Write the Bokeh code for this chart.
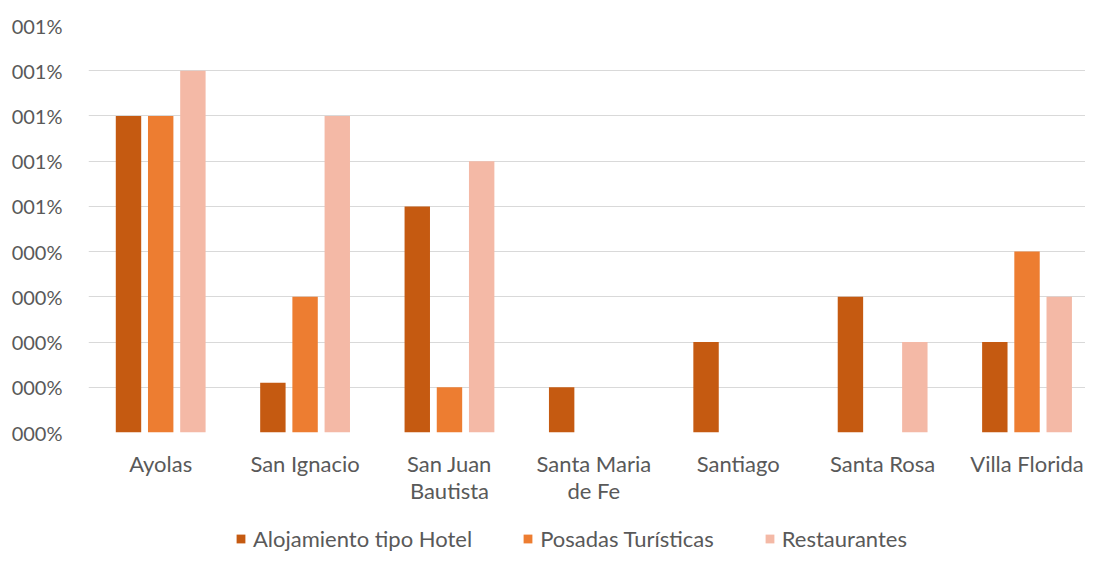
from bokeh.plotting import figure
from bokeh.models import Range1d, Legend, LegendItem, FixedTicker, ColumnDataSource
from bokeh.layouts import column
from bokeh.transform import dodge
from bokeh.embed import file_html
from bokeh.resources import INLINE

categories = ["Ayolas", "San Ignacio", "San Juan\nBautista", "Santa Maria\nde Fe", "Santiago", "Santa Rosa", "Villa Florida"]
hotel = [7, 1.1, 5, 1, 2, 3, 2]
posadas = [7, 3, 1, 0, 0, 0, 4]
restaurantes = [8, 7, 6, 0, 0, 2, 3]
series_names = ["Alojamiento tipo Hotel", "Posadas Turísticas", "Restaurantes"]
y_ticks = [0, 1, 2, 3, 4, 5, 6, 7, 8, 9]
y_tick_labels = ["000%", "000%", "000%", "000%", "000%", "001%", "001%", "001%", "001%", "001%"]

colors = ["#C55A11", "#ED7D31", "#F4B9A6"]
FONT = "Lato"
TXT = "#595959"

idx = list(range(len(categories)))
src = ColumnDataSource(dict(i=idx, hotel=hotel, posadas=posadas, rest=restaurantes))

W = 1085
H1 = 518
H2 = 34

p = figure(width=W, height=H1, x_range=Range1d(-0.5, 6.405),
           y_range=(0, 9), output_backend="svg", toolbar_location=None,
           min_border_left=88, min_border_right=0, min_border_top=25, min_border_bottom=H1 - 432)
p.outline_line_color = None

for col, off, c in zip(["hotel", "posadas", "rest"], [-0.223, 0, 0.223], colors):
    p.vbar(x=dodge("i", off), top=col, width=0.176, source=src,
           fill_color=c, line_color=None)

p.xgrid.grid_line_color = None
p.ygrid.grid_line_color = "#D9D9D9"
p.ygrid.grid_line_width = 1
p.ygrid.ticker = FixedTicker(ticks=y_ticks)

p.yaxis.ticker = FixedTicker(ticks=y_ticks)
p.yaxis.major_label_overrides = {t: l for t, l in zip(y_ticks, y_tick_labels)}
p.xaxis.ticker = FixedTicker(ticks=idx)
p.xaxis.major_label_overrides = {i: c for i, c in zip(idx, categories)}
for ax in (p.xaxis, p.yaxis):
    ax.axis_line_color = None
    ax.major_tick_line_color = None
    ax.minor_tick_line_color = None
    ax.major_label_text_font = FONT
    ax.major_label_text_color = TXT
p.yaxis.major_label_text_font_size = "20px"
p.yaxis.major_label_standoff = 20
p.xaxis.major_label_standoff = 11
p.xaxis.major_label_text_font_size = "22px"
p.xaxis.major_label_text_line_height = 1.0

# legend strip
lg = figure(width=W, height=H2, output_backend="svg", toolbar_location=None,
            x_range=(0, 1), y_range=(0, 1), min_border=0)
lg.axis.visible = False
lg.grid.visible = False
lg.outline_line_color = None
lrs = []
for c in colors:
    lrs.append(lg.vbar(x=[-5], top=[0], width=0.1, fill_color=c, line_color=None))
legend = Legend(items=[LegendItem(label=n, renderers=[r]) for n, r in zip(series_names, lrs)],
                orientation="horizontal", location=(147, 0),
                label_text_font=FONT, label_text_font_size="22px", label_text_color=TXT,
                glyph_width=11, glyph_height=11, label_standoff=7, spacing=50,
                border_line_color=None, background_fill_alpha=0, margin=0, padding=0)
lg.add_layout(legend, "center")

open("out.html", "w").write(file_html(column(p, lg, spacing=0), INLINE))
